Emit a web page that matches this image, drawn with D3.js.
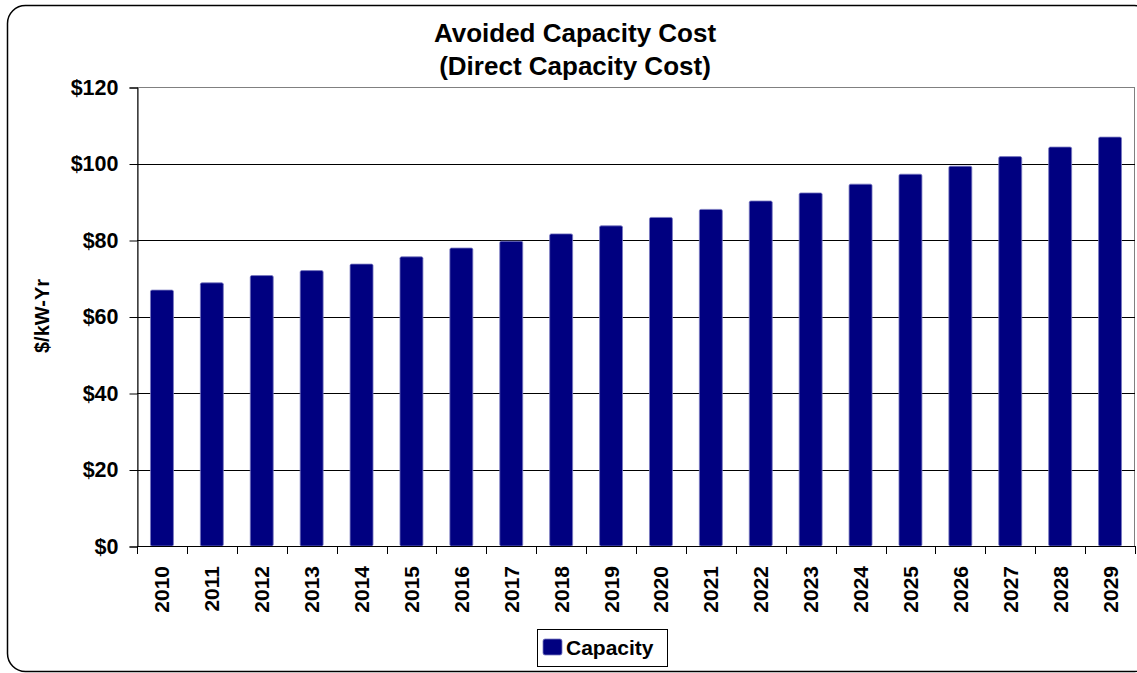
<!DOCTYPE html>
<html><head><meta charset="utf-8">
<script src="https://cdn.jsdelivr.net/npm/d3@7"></script>
<style>body{margin:0;background:#fff;}svg{display:block;font-family:"Liberation Sans",Arial,sans-serif;}</style>
</head><body><svg id="c" width="1137" height="673"></svg>
<script>
const years = ["2010","2011","2012","2013","2014","2015","2016","2017","2018","2019","2020","2021","2022","2023","2024","2025","2026","2027","2028","2029"];
const capacity = [66.9,68.8,70.7,72.0,73.7,75.6,77.9,79.7,81.6,83.7,85.9,88.0,90.2,92.3,94.6,97.2,99.3,101.8,104.3,106.9];
const yTicks = [0,20,40,60,80,100,120];
const titleLines = ["Avoided Capacity Cost","(Direct Capacity Cost)"];
const yTitle = "$/kW-Yr";
const seriesName = "Capacity";

const svg = d3.select("#c");
const L=137,R=1135,T=87,B=546;
svg.append("rect").attr("x",7.5).attr("y",5.5).attr("width",1145).attr("height",666).attr("rx",18)
  .attr("fill","#fff").attr("stroke","#000").attr("stroke-width",1.5);

const x = d3.scaleBand().domain(years).range([L,R]).paddingInner(0.54).paddingOuter(0.27);
const xb = d3.scaleBand().domain(years).range([L,R]);
const y = d3.scaleLinear().domain([0,120]).range([B,T]);

// plot border
svg.append("rect").attr("x",L+0.5).attr("y",T+0.5).attr("width",R-L-1).attr("height",B-T).attr("fill","none").attr("stroke","#808080");
// gridlines
svg.append("g").selectAll("line").data(yTicks.slice(1)).join("line")
  .attr("x1",L).attr("x2",R).attr("y1",d=>Math.round(y(d))+0.5).attr("y2",d=>Math.round(y(d))+0.5)
  .attr("stroke",d=>d===120?"#808080":"#000").attr("stroke-width",1);

// bars
svg.append("g").selectAll("rect").data(capacity).join("rect")
  .attr("x",(d,i)=>x(years[i])).attr("width",x.bandwidth())
  .attr("y",d=>y(d)).attr("height",d=>B-y(d))
  .attr("rx",1.5).attr("fill","#000080").attr("stroke","#7878c0").attr("stroke-width",0.8);

// y axis
const ya = d3.axisLeft(y).tickValues(yTicks).tickFormat(d=>"$"+d).tickSize(8).tickPadding(11);
const yg = svg.append("g").attr("transform",`translate(${L+0.5},0.5)`).call(ya);
yg.select(".domain").attr("stroke","#000");
yg.selectAll("line").attr("stroke","#000");
yg.selectAll("text").attr("font-size",21.5).attr("font-weight","bold").attr("fill","#000").attr("font-family","Liberation Sans, Arial, sans-serif");

// x axis: ticks at category boundaries
const xg = svg.append("g");
xg.append("line").attr("x1",L).attr("x2",R).attr("y1",B+0.5).attr("y2",B+0.5).attr("stroke","#000");
const bounds = years.map(d=>xb(d)).concat([R-0.5]);
xg.selectAll("line.t").data(bounds).join("line").attr("class","t")
  .attr("x1",d=>Math.round(d)+0.5).attr("x2",d=>Math.round(d)+0.5).attr("y1",B).attr("y2",B+8).attr("stroke","#000");
xg.selectAll("text").data(years).join("text")
  .attr("transform",d=>`translate(${xb(d)+xb.bandwidth()/2+7.5},${B+20}) rotate(-90)`)
  .attr("text-anchor","end").attr("font-size",21).attr("font-weight","bold").text(d=>d);

// titles
svg.append("g").selectAll("text").data(titleLines).join("text")
  .attr("x",575).attr("y",(d,i)=>42+i*33).attr("text-anchor","middle")
  .attr("font-size",26).attr("font-weight","bold").text(d=>d);
svg.append("text").attr("transform","translate(49,316) rotate(-90)").attr("text-anchor","middle")
  .attr("font-size",20).attr("font-weight","bold").text(yTitle);

// legend
const lg = svg.append("g");
lg.append("rect").attr("x",537.5).attr("y",629.5).attr("width",130).attr("height",37).attr("fill","#fff").attr("stroke","#000");
lg.append("rect").attr("x",543).attr("y",639).attr("width",19).attr("height",16).attr("rx",2).attr("fill","#000080").attr("stroke","#7878c0").attr("stroke-width",0.8);
lg.append("text").attr("x",566).attr("y",655).attr("font-size",21).attr("font-weight","bold").text(seriesName);
</script></body></html>
